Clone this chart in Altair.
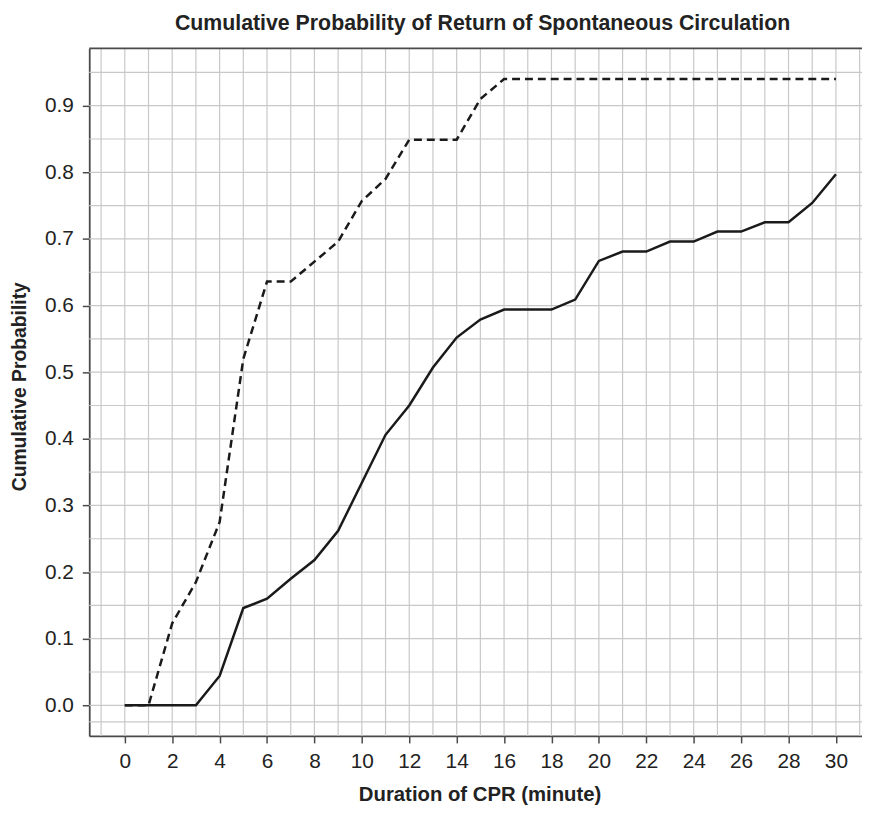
import altair as alt
import pandas as pd

# ---- data ----
minutes = [0, 1, 2, 3, 4, 5, 6, 7, 8, 9, 10, 11, 12, 13, 14, 15, 16, 17, 18, 19, 20,
           21, 22, 23, 24, 25, 26, 27, 28, 29, 30]
solid_prob = [0.0, 0.0, 0.0, 0.0, 0.044, 0.146, 0.160, 0.190, 0.218, 0.262, 0.334,
              0.406, 0.450, 0.507, 0.552, 0.579, 0.594, 0.594, 0.594, 0.609, 0.667,
              0.681, 0.681, 0.696, 0.696, 0.711, 0.711, 0.725, 0.725, 0.754, 0.797]
dashed_prob = [0.0, 0.0, 0.123, 0.185, 0.275, 0.520, 0.636, 0.636, 0.666, 0.696, 0.757,
               0.790, 0.849, 0.849, 0.849, 0.910, 0.940, 0.940, 0.940, 0.940, 0.940,
               0.940, 0.940, 0.940, 0.940, 0.940, 0.940, 0.940, 0.940, 0.940, 0.940]

x_tick_values = [0, 2, 4, 6, 8, 10, 12, 14, 16, 18, 20, 22, 24, 26, 28, 30]
y_tick_values = [0.0, 0.1, 0.2, 0.3, 0.4, 0.5, 0.6, 0.7, 0.8, 0.9]
x_grid_values = [-1, 0, 1, 2, 3, 4, 5, 6, 7, 8, 9, 10, 11, 12, 13, 14, 15, 16, 17, 18,
                 19, 20, 21, 22, 23, 24, 25, 26, 27, 28, 29, 30, 31]
y_grid_values = [-0.025, 0.0, 0.05, 0.1, 0.15, 0.2, 0.25, 0.3, 0.35, 0.4, 0.45, 0.5,
                 0.55, 0.6, 0.65, 0.7, 0.75, 0.8, 0.85, 0.9, 0.95]

title_text = "Cumulative Probability of Return of Spontaneous Circulation"
x_title = "Duration of CPR (minute)"
y_title = "Cumulative Probability"

# ---- layout / style ----
W, H = 780, 694
FONT = "Liberation Sans"
TEXT = "#222222"
GRID = "#c8c8c8"
LINE = "#1a1a1a"
FRAME = "#4a4a4a"

xscale = alt.Scale(domain=[-1.5, 31.1], nice=False, zero=False)
yscale = alt.Scale(domain=[-0.046, 0.986], nice=False, zero=False)

xaxis = alt.Axis(values=x_tick_values, grid=False, title=x_title, tickSize=7,
                 tickColor=FRAME, tickWidth=1.5, domainColor=FRAME, domainWidth=1.8,
                 labelFont=FONT, labelFontSize=21, labelColor=TEXT, labelPadding=8,
                 titleFont=FONT, titleFontSize=20.5, titleFontWeight="bold",
                 titleColor=TEXT, titlePadding=13, labelFlush=False,
                 titleX=W / 2 + 4)
yaxis = alt.Axis(values=y_tick_values, grid=False, title=y_title, format=".1f",
                 tickSize=7, tickColor=FRAME, tickWidth=1.5, domainColor=FRAME,
                 domainWidth=1.8, labelFont=FONT, labelFontSize=21, labelColor=TEXT,
                 labelPadding=9, titleFont=FONT, titleFontSize=19.5,
                 titleFontWeight="bold", titleColor=TEXT, titlePadding=15,
                 labelFlush=False, titleY=H / 2 - 6)

grid_x = alt.Chart(pd.DataFrame({"gx": x_grid_values})).mark_rule(
    color=GRID, strokeWidth=1.2
).encode(x=alt.X("gx:Q", scale=xscale, axis=xaxis))

grid_y = alt.Chart(pd.DataFrame({"gy": y_grid_values})).mark_rule(
    color=GRID, strokeWidth=1.2
).encode(y=alt.Y("gy:Q", scale=yscale, axis=yaxis))

solid = alt.Chart(pd.DataFrame({"minute": minutes, "p": solid_prob})).mark_line(
    color=LINE, strokeWidth=2.5
).encode(
    x=alt.X("minute:Q", scale=xscale, axis=xaxis),
    y=alt.Y("p:Q", scale=yscale, axis=yaxis),
)

dashed = alt.Chart(pd.DataFrame({"minute": minutes, "p": dashed_prob})).mark_line(
    color=LINE, strokeWidth=2.5, strokeDash=[8, 5]
).encode(
    x=alt.X("minute:Q", scale=xscale, axis=xaxis),
    y=alt.Y("p:Q", scale=yscale, axis=yaxis),
)

top_frame = alt.Chart(pd.DataFrame({"k": [0]})).mark_rule(
    color=FRAME, strokeWidth=1.8
).encode(x=alt.value(0), x2=alt.value(W), y=alt.value(0))

chart = alt.layer(grid_x, grid_y, solid, dashed, top_frame).properties(
    width=W,
    height=H,
    title=alt.TitleParams(text=title_text, font=FONT, fontSize=21.5, fontWeight="bold",
                          color=TEXT, anchor="middle", offset=13, dx=7),
    autosize=alt.AutoSizeParams(type="none"),
    padding={"left": 82, "top": 37, "right": 0, "bottom": 75},
).configure_view(stroke=None)

chart.save("out.html", embed_options={"renderer": "svg", "actions": False})
